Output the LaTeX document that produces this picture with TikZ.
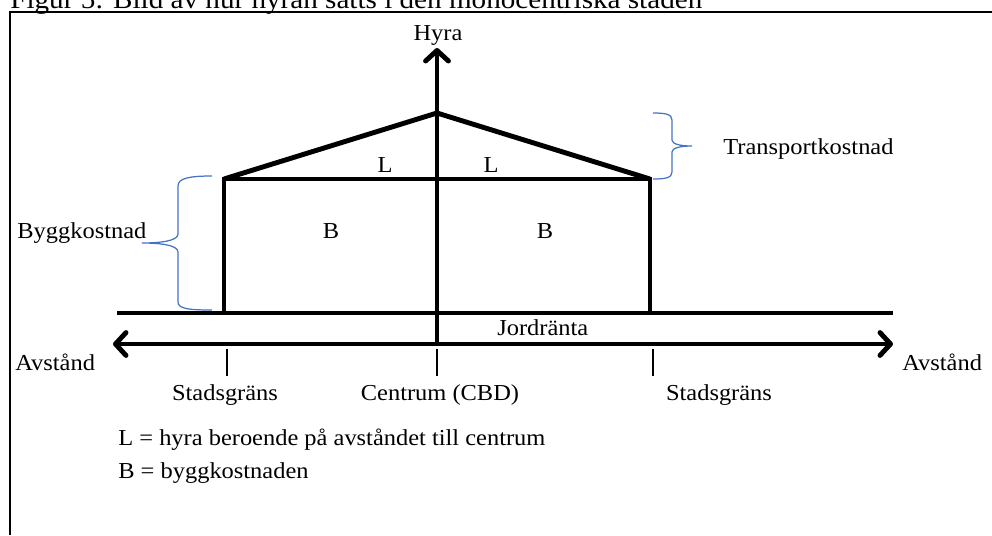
\documentclass[tikz,border=0pt]{standalone}
\usepackage{fontspec}
\setmainfont[FakeStretch=1.07]{Liberation Serif}
\usetikzlibrary{arrows.meta}

\definecolor{klammerfarg}{RGB}{68,114,196}

\tikzset{
	tjock/.style={draw=black, line width=2.8pt},
	tunn/.style={draw=black, line width=0.6pt},
	klammer/.style={draw=klammerfarg, line width=0.7pt},
	ram/.style={draw=black, line width=1.2pt},
	etikett/.style={font=\fontsize{13}{15}\selectfont, inner sep=0pt},
	pil/.style={-{Straight Barb[length=6pt, width=13pt, round]}},
	dubbelpil/.style={{Straight Barb[length=6pt, width=13pt, round]}-{Straight Barb[length=6pt, width=13pt, round]}}
}

\begin{document}
\begin{tikzpicture}[x=0.02cm, y=-0.02cm]
	\useasboundingbox (0,0) rectangle (992,535);
	\clip (0,0) rectangle (992,535);

	% ram och rubrik
	\draw[ram] (10,535) -- (10,12) -- (992,12);
	\node[etikett, font=\fontsize{15.5}{18}\selectfont, anchor=base west] (titel) at (10,8) {Figur 5: Bild av hur hyran sätts i den monocentriska staden};

	% punkter
	\coordinate (topp) at (437,113);
	\coordinate (hornV) at (224,179);
	\coordinate (hornH) at (650,179);
	\coordinate (fotV) at (224,313);
	\coordinate (fotH) at (650,313);
	\coordinate (markV) at (117,313);
	\coordinate (markH) at (893,313);
	\coordinate (pilV) at (113,344);
	\coordinate (pilH) at (893,344);
	\coordinate (axelbas) at (437,344);
	\coordinate (axeltopp) at (437,48);

	% axlar
	\draw[tjock, pil] (axelbas) -- (axeltopp);
	\draw[tjock, dubbelpil] (pilV) -- (pilH);
	\draw[tjock] (markV) -- (markH);

	% huset
	\draw[tjock, line join=miter] (fotV) -- (hornV) -- (hornH) -- (fotH);
	\draw[tjock, line join=miter] (hornV) -- (topp) -- (hornH);

	% streck
	\foreach \x in {227,437,653}
		\draw[tunn] (\x,349) -- (\x,376);

	% klamrar
	\draw[klammer] (212,176) .. controls (190,176) and (178,178) .. (178,186) -- (178,234)
		.. controls (178,241) and (160,243) .. (142,243)
		.. controls (160,243) and (178,245) .. (178,252) -- (178,302)
		.. controls (178,309) and (190,310) .. (212,310);
	\draw[klammer] (653,113) .. controls (665,113) and (672,114) .. (672,120) -- (672,140)
		.. controls (672,144) and (680,146) .. (692,146)
		.. controls (680,146) and (672,148) .. (672,152) -- (672,172)
		.. controls (672,178) and (665,179) .. (653,179);

	% texter
	\node[etikett, anchor=base] (hyra) at (438,40) {Hyra};
	\node[etikett, anchor=base] (lV) at (385,172) {L};
	\node[etikett, anchor=base] (lH) at (491,172) {L};
	\node[etikett, anchor=base] (bV) at (331,238) {B};
	\node[etikett, anchor=base] (bH) at (545,238) {B};
	\node[etikett, anchor=base west] (bygg) at (17,238) {Byggkostnad};
	\node[etikett, anchor=base west] (transport) at (723,154) {Transportkostnad};
	\node[etikett, anchor=base west] (jord) at (497,335) {Jordränta};
	\node[etikett, anchor=base west] (avstV) at (15,370) {Avstånd};
	\node[etikett, anchor=base west] (avstH) at (902,370) {Avstånd};
	\node[etikett, anchor=base] (stadV) at (225,400) {Stadsgräns};
	\node[etikett, anchor=base] (centrum) at (440,400) {Centrum (CBD)};
	\node[etikett, anchor=base] (stadH) at (719,400) {Stadsgräns};
	\node[etikett, anchor=base west] (legL) at (118,445) {L = hyra beroende på avståndet till centrum};
	\node[etikett, anchor=base west] (legB) at (118,478) {B = byggkostnaden};
\end{tikzpicture}
\end{document}
